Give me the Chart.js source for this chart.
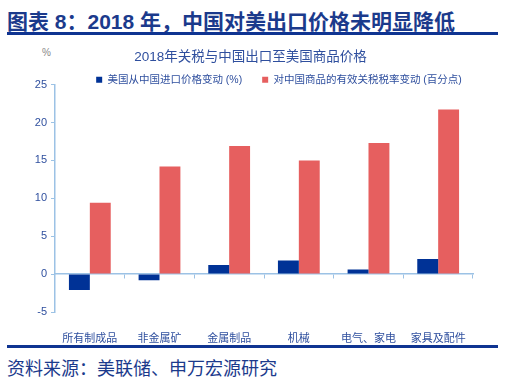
<!DOCTYPE html>
<html><head><meta charset="utf-8">
<script src="https://cdn.jsdelivr.net/npm/chart.js@4/dist/chart.umd.min.js"></script>
<style>
html,body{margin:0;padding:0;background:#fff;width:505px;height:384px;overflow:hidden;}
#hdr{position:absolute;left:7px;top:5px;font:bold 21px 'Liberation Sans','Noto Sans CJK SC',sans-serif;color:#1b3a8c;white-space:nowrap;}
#l1{position:absolute;left:7px;top:32px;width:491px;height:3px;background:#0f3491;}
#l2{position:absolute;left:7px;top:345px;width:491px;height:3px;background:#0f3491;}
#src{position:absolute;left:7px;top:354px;font:18px 'Liberation Sans','Noto Sans CJK SC',sans-serif;color:#1b3a8c;white-space:nowrap;}
#pct{position:absolute;left:42px;top:47px;font:10px 'Liberation Sans',sans-serif;color:#888;}
#wrap{position:absolute;left:0;top:36px;width:505px;height:309px;}
</style></head>
<body>
<div id="hdr">图表 8：2018 年，中国对美出口价格未明显降低</div>
<div id="l1"></div>
<div id="pct">%</div>
<div id="wrap"><canvas id="c"></canvas></div>
<div id="l2"></div>
<div id="src">资料来源：美联储、申万宏源研究</div>
<script>
const categories = ['所有制成品','非金属矿','金属制品','机械','电气、家电','家具及配件'];
const importPriceChange = [-2.1, -0.8, 1.2, 1.8, 0.6, 2.0];
const tariffRateChange = [9.4, 14.2, 16.9, 15.0, 17.3, 21.7];
const seriesNames = ['美国从中国进口价格变动 (%)','对中国商品的有效关税税率变动 (百分点)'];
const chartTitle = '2018年关税与中国出口至美国商品价格';

const FONT = "'Liberation Sans','Noto Sans CJK SC',sans-serif";
const axisColor = '#9cc2e5';
const textBlue = '#2f4f9e';

const shiftBoxes = {
  id: 'shiftBoxes',
  afterLayout(chart) {
    const t = chart.titleBlock, l = chart.legend;
    if (t) { t.left += 14; t.right += 14; }
    if (l) { l.left += 42.5; l.right += 42.5; l.top = 18.5; l.bottom = 80; }
  }
};

new Chart(document.getElementById('c'), {
  type: 'bar',
  data: {
    labels: categories,
    datasets: [
      {label: seriesNames[0], data: importPriceChange, backgroundColor: '#003296', categoryPercentage: 0.6, barPercentage: 1.0},
      {label: seriesNames[1], data: tariffRateChange, backgroundColor: '#e65f5f', categoryPercentage: 0.6, barPercentage: 1.0}
    ]
  },
  plugins: [shiftBoxes],
  options: {
    responsive: true,
    maintainAspectRatio: false,
    animation: false,
    layout: {padding: {left: 0, right: 32, top: 0, bottom: 0}},
    plugins: {
      title: {display: true, text: chartTitle, color: textBlue, font: {family: FONT, size: 13.5, weight: 'normal'}, padding: {top: 13, bottom: 0}},
      legend: {
        display: true,
        maxHeight: 19.4,
        labels: {color: textBlue, font: {family: FONT, size: 10.5}, boxWidth: 6, boxHeight: 6, usePointStyle: true, pointStyle: 'rect', padding: 20}
      },
      tooltip: {enabled: false}
    },
    scales: {
      x: {
        type: 'category',
        position: {y: 0},
        offset: true,
        grid: {display: true, drawOnChartArea: false, drawTicks: true, tickLength: 4, color: axisColor, offset: true},
        border: {display: true, color: axisColor, width: 1.5},
        ticks: {display: false}
      },
      x2: {
        type: 'category',
        position: 'bottom',
        labels: categories,
        offset: true,
        grid: {display: false},
        border: {display: false},
        ticks: {color: textBlue, font: {family: FONT, size: 11}, padding: 12, maxRotation: 0, autoSkip: false},
        afterFit(s){ s.height = 33; }
      },
      y: {
        min: -5, max: 25,
        ticks: {stepSize: 5, color: textBlue, font: {family: FONT, size: 11}, padding: 4},
        grid: {display: true, drawOnChartArea: false, drawTicks: true, tickLength: 4, color: axisColor},
        border: {display: true, color: axisColor, width: 1.5},
        afterFit(s){ s.width = 55; }
      }
    }
  }
});
</script>
</body></html>
